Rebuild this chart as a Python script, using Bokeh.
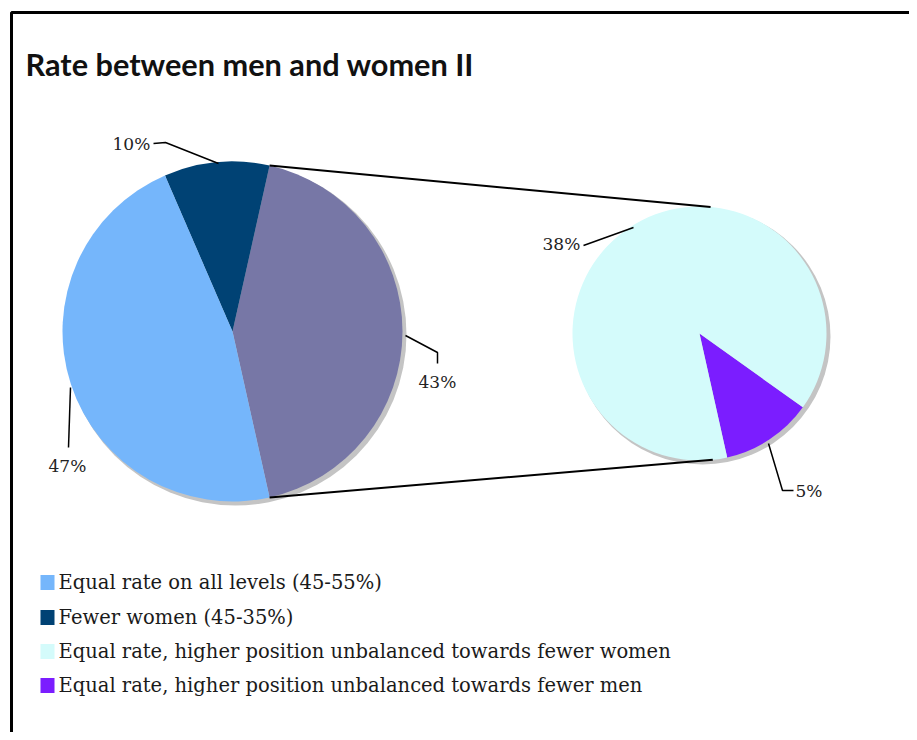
import numpy as np
from bokeh.plotting import figure
from bokeh.models import Range1d
from bokeh.core.properties import value
from bokeh.embed import file_html
from bokeh.resources import INLINE

# ---- data ----
categories = [
    "Equal rate on all levels (45-55%)",
    "Fewer women (45-35%)",
    "Equal rate, higher position unbalanced towards fewer women",
    "Equal rate, higher position unbalanced towards fewer men",
]
values = [47, 10, 38, 5]
colors = ["#75B6FB", "#004274", "#D4FBFB", "#7B1DFF"]
other_color = "#7777A6"
title_text = "Rate between men and women II"

W, H = 909, 732
p = figure(width=W, height=H, output_backend="svg", toolbar_location=None,
           x_range=Range1d(0, W), y_range=Range1d(0, H),
           min_border=0, outline_line_color=None)
p.axis.visible = False
p.grid.visible = False
p.background_fill_color = "white"
p.border_fill_color = "white"


def Y(y_img):
    return H - y_img


serif = value("DejaVu Serif")

# frame
p.line([11, 11, 930], [Y(760), Y(12), Y(12)], line_color="black", line_width=3)

# title
p.text(x=[25], y=[Y(64)], text=[title_text], text_font=value("Lato"),
       text_font_style="bold", text_font_size="30.7px", text_baseline="middle",
       text_color="#111111")

# ---- main pie ----
main_vals = [values[0], values[1], values[2] + values[3]]
main_cols = [colors[0], colors[1], other_color]
total = sum(values)
other = main_vals[2]
half = other / total * np.pi  # half-angle of "other" slice

c1x, c1y, r1 = 232, Y(331), 170
c2x, c2y, r2 = 699, Y(333), 127

# shadows
p.circle(x=[c1x + 3], y=[c1y - 3], radius=r1 + 1, radius_units="screen",
         fill_color="#C4C4C4", line_color=None)
p.circle(x=[c2x + 3], y=[c2y - 3], radius=r2 + 1, radius_units="screen",
         fill_color="#C4C4C4", line_color=None)

# other slice centered at 0, then counter-clockwise: fewer women, equal rate
order = [2, 1, 0]
start = -half
for i in order:
    ang = main_vals[i] / total * 2 * np.pi
    p.wedge(x=[c1x], y=[c1y], radius=r1, radius_units="screen",
            start_angle=start, end_angle=start + ang, direction="anticlock",
            fill_color=main_cols[i], line_color=None)
    start += ang

# ---- second pie ----
sub_vals = [values[3], values[2]]
sub_cols = [colors[3], colors[2]]
start = -half
for v, col in zip(sub_vals, sub_cols):
    ang = v / other * 2 * np.pi
    p.wedge(x=[c2x], y=[c2y], radius=r2, radius_units="screen",
            start_angle=start, end_angle=start + ang, direction="anticlock",
            fill_color=col, line_color=None)
    start += ang

# connector lines
a2t, a2b = np.deg2rad(85), np.deg2rad(-84)
p.line([c1x + r1 * np.cos(half), c2x + r2 * np.cos(a2t)],
       [c1y + r1 * np.sin(half), c2y + r2 * np.sin(a2t)],
       line_color="black", line_width=2)
p.line([c1x + r1 * np.cos(-half), c2x + r2 * np.cos(a2b)],
       [c1y + r1 * np.sin(-half), c2y + r2 * np.sin(a2b)],
       line_color="black", line_width=2)

# ---- data labels ----
labels = [f"{values[0]}%", f"{values[1]}%", f"{other}%", f"{values[2]}%", f"{values[3]}%"]
lab_x = [48, 112, 418, 542, 795]
lab_y = [465, 143, 381, 243, 490]
p.text(x=lab_x, y=[Y(v) for v in lab_y], text=labels, text_font=serif,
       text_font_size="17px", text_baseline="middle", text_color="#222222")

leaders = [
    ([70, 68], [387, 447]),
    ([153, 165, 218], [143, 142, 163]),
    ([405, 437, 437], [335, 352, 363]),
    ([583, 633], [245, 227]),
    ([768, 782, 793], [443, 490, 490]),
]
for xs, ys in leaders:
    p.line(xs, [Y(v) for v in ys], line_color="black", line_width=1.5)

# ---- legend ----
leg_y = [582, 617, 651, 685]
p.rect(x=[47] * 4, y=[Y(v) for v in leg_y], width=14, height=15,
       width_units="screen", height_units="screen",
       fill_color=colors, line_color=None)
p.text(x=[58] * 4, y=[Y(v) for v in leg_y], text=categories, text_font=serif,
       text_font_size="19.5px", text_baseline="middle", text_color="#1a1a1a")

open("out.html", "w").write(file_html(p, INLINE))
